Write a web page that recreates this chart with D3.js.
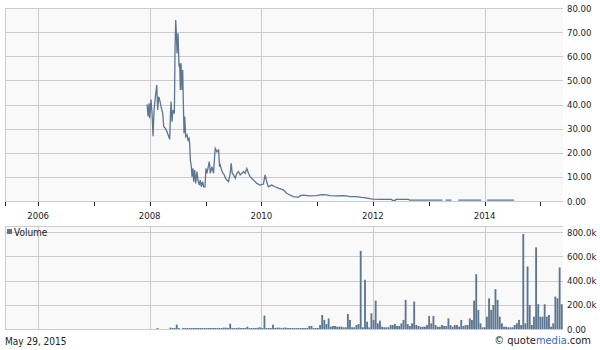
<!DOCTYPE html>
<html>
<head>
<meta charset="utf-8">
<script src="https://cdn.jsdelivr.net/npm/d3@7"></script>
<style>
  body { margin: 0; background: #fff; }
  text { font-family: Tahoma, "DejaVu Sans Condensed", "Liberation Sans", sans-serif; fill: #222; }
</style>
</head>
<body>
<div id="chart"></div>
<script>
// price (decimal years); null = no trades
var priceYears = [2007.953,2007.971,2007.989,2008.000,2008.024,2008.042,2008.060,2008.078,2008.102,2008.126,
  2008.143,2008.161,2008.179,2008.203,2008.233,2008.251,2008.280,2008.310,2008.340,2008.358,
  2008.370,2008.382,2008.399,2008.417,2008.441,2008.453,2008.465,2008.477,2008.489,2008.507,
  2008.524,2008.536,2008.548,2008.560,2008.578,2008.590,2008.602,2008.614,2008.626,2008.644,
  2008.667,2008.685,2008.703,2008.715,2008.727,2008.745,2008.756,2008.774,2008.786,2008.804,
  2008.822,2008.845,2008.863,2008.887,2008.905,2008.923,2008.947,2008.965,2008.989,2009.006,
  2009.024,2009.048,2009.066,2009.084,2009.114,2009.143,2009.161,2009.173,2009.203,2009.233,
  2009.250,2009.262,2009.286,2009.310,2009.334,2009.357,2009.381,2009.411,2009.441,2009.459,
  2009.477,2009.501,2009.530,2009.560,2009.590,2009.620,2009.649,2009.679,2009.709,2009.739,
  2009.768,2009.798,2009.858,2009.917,2009.977,2010.036,2010.066,2010.096,2010.125,2010.185,
  2010.245,2010.304,2010.393,2010.453,2010.513,2010.572,2010.661,2010.691,2010.750,2010.870,
  2010.989,2011.079,2011.168,2011.227,2011.346,2011.464,2011.525,2011.584,2011.704,2011.793,
  2011.852,2011.941,2012.005,2012.120,2012.330,2012.348,2012.400,2012.410,2012.636,2012.654,
  2013.243,2013.270,2013.297,2013.404,2013.460,2013.529,2013.940,2013.990,2014.046,2014.529];
var prices = [40.1,35.0,40.5,34.3,42.1,36.3,26.9,37.7,43.2,48.1,
  37.7,43.2,41.9,39.1,36.3,30.8,30.1,28.7,26.7,25.6,
  35.0,41.2,32.9,37.7,36.3,62.6,75.0,69.5,61.2,69.5,
  55.7,57.1,46.0,57.1,46.0,54.3,40.5,28.0,35.0,26.7,
  27.4,25.3,26.0,23.9,17.0,14.2,10.1,13.5,8.0,12.8,
  7.3,12.2,8.7,6.6,8.7,5.9,8.0,5.9,5.9,13.5,
  11.5,14.2,16.3,11.5,14.2,11.5,18.4,21.8,20.4,21.1,
  14.2,14.9,12.8,11.5,10.8,9.4,8.7,8.0,11.5,15.6,
  11.5,10.8,9.4,11.5,12.2,10.8,11.5,12.2,11.5,13.5,
  11.5,10.1,8.7,7.3,6.6,7.0,10.8,8.0,5.9,6.6,
  5.9,5.3,4.6,3.2,2.5,1.8,1.5,2.1,2.4,2.1,
  2.2,2.6,2.5,2.2,2.1,2.2,2.1,1.8,1.8,1.5,
  1.4,1.0,0.8,0.7,0.7,0.3,0.3,0.7,0.7,0.4,
  0.4,null,0.4,0.4,null,0.4,0.4,null,0.4,0.4];

// volume, one bar per two weeks from volStart
var volStart = "2008-02-15";
var volumes = [5,0,0,0,0,0,11,8,4,36,4,0,3,3,3,3,3,3,3,3,
  3,3,3,3,3,3,3,3,3,3,3,11,11,5,44,5,5,5,11,3,
  3,3,19,3,3,3,3,11,14,5,111,8,5,8,36,4,11,11,4,11,
  11,5,5,8,5,8,5,5,5,5,5,25,25,8,8,8,33,116,75,41,
  88,19,25,25,19,19,19,14,14,124,75,14,14,33,41,647,14,407,61,14,
  130,75,235,47,69,19,14,14,14,33,33,41,25,25,47,75,241,41,25,47,
  227,33,25,19,19,19,33,108,47,108,33,19,19,33,25,25,88,33,19,33,
  33,19,75,25,33,33,88,75,235,453,158,47,14,14,102,254,158,199,330,241,
  102,47,19,19,14,14,14,33,47,75,33,786,47,517,199,33,102,675,205,102,
  102,205,102,116,19,47,268,254,509,205,108]; // thousands

var priceTicks = [0, 10, 20, 30, 40, 50, 60, 70, 80];
var volTicks = [0, 200, 400, 600, 800];
var yearLabels = [2006, 2008, 2010, 2012, 2014];
var yearTicks = [2006, 2007, 2008, 2009, 2010, 2011, 2012, 2013, 2014, 2015];

var w = 600, h = 350;
var left = 5, right = 563;
var lineColor = "#5c7690", gridColor = "#cccccc";

function yearToDate(y) {
  var yr = Math.floor(y);
  var a = new Date(yr, 0, 1), b = new Date(yr + 1, 0, 1);
  return new Date(+a + (y - yr) * (b - a));
}

var svg = d3.select("#chart").append("svg")
  .attr("width", w).attr("height", h);

var x = d3.scaleTime()
  .domain([new Date(2005, 4, 29), new Date(2015, 4, 29)])
  .range([left, right]);

var yP = d3.scaleLinear().domain([0, 80]).range([201, 8]);
var yV = d3.scaleLinear().domain([0, 800]).range([329, 232.3]);

svg.append("defs").append("clipPath").attr("id", "clip")
  .append("rect").attr("x", left).attr("y", 0).attr("width", right - left).attr("height", h);

// panel backgrounds
svg.append("rect").attr("x", left).attr("y", 8).attr("width", right - left).attr("height", 193).attr("fill", "#f9f9f9");
svg.append("rect").attr("x", left).attr("y", 226).attr("width", right - left).attr("height", 103).attr("fill", "#f9f9f9");

// horizontal grid
svg.selectAll(".pgrid").data(priceTicks).enter().append("line")
  .attr("x1", left).attr("x2", right)
  .attr("y1", function(d) { return Math.round(yP(d)) + 0.5; })
  .attr("y2", function(d) { return Math.round(yP(d)) + 0.5; })
  .attr("stroke", gridColor);
svg.selectAll(".vgrid").data(volTicks).enter().append("line")
  .attr("x1", left).attr("x2", right)
  .attr("y1", function(d) { return Math.round(yV(d)) + 0.5; })
  .attr("y2", function(d) { return Math.round(yV(d)) + 0.5; })
  .attr("stroke", gridColor);
svg.append("line").attr("x1", left).attr("x2", right).attr("y1", 226.5).attr("y2", 226.5).attr("stroke", gridColor);

// vertical grid + left borders
[[8, 201], [226, 329]].forEach(function(p) {
  svg.selectAll(null).data(yearLabels).enter().append("line")
    .attr("x1", function(d) { return Math.round(x(new Date(d, 0, 1))) + 0.5; })
    .attr("x2", function(d) { return Math.round(x(new Date(d, 0, 1))) + 0.5; })
    .attr("y1", p[0]).attr("y2", p[1])
    .attr("stroke", gridColor);
  svg.append("line").attr("x1", left + 0.5).attr("x2", left + 0.5)
    .attr("y1", p[0]).attr("y2", p[1]).attr("stroke", gridColor);
});

// year ticks under price panel
var tickVals = yearTicks.map(function(d) { return new Date(d, 0, 1); });
svg.selectAll(".ytick").data(tickVals).enter().append("line")
  .attr("x1", function(d) { return Math.round(x(d)) + 0.5; })
  .attr("x2", function(d) { return Math.round(x(d)) + 0.5; })
  .attr("y1", 202).attr("y2", 206)
  .attr("stroke", "#222");
svg.append("line").attr("x1", left + 0.5).attr("x2", left + 0.5).attr("y1", 202).attr("y2", 206).attr("stroke", "#222");

svg.selectAll(".ylab").data(yearLabels).enter().append("text")
  .attr("x", function(d) { return x(new Date(d, 0, 1)); })
  .attr("y", 218.5)
  .attr("text-anchor", "middle")
  .attr("font-size", "9.5px")
  .text(function(d) { return d; });

// price line
var pts = priceYears.map(function(d, i) { return {date: yearToDate(d), v: prices[i]}; });
var line = d3.line()
  .defined(function(d) { return d.v !== null; })
  .x(function(d) { return x(d.date); })
  .y(function(d) { return yP(d.v); });
svg.append("path").datum(pts)
  .attr("d", line)
  .attr("fill", "none")
  .attr("stroke", lineColor)
  .attr("stroke-width", 1.3);

// volume bars
var t0 = d3.timeParse("%Y-%m-%d")(volStart);
var bars = volumes.map(function(v, i) { return {date: d3.timeDay.offset(t0, 14 * i), v: v}; });
svg.append("g").attr("clip-path", "url(#clip)")
  .selectAll("rect").data(bars).enter().append("rect")
  .attr("x", function(d) { return x(d.date); })
  .attr("width", function(d) { return x(d3.timeDay.offset(d.date, 14)) - x(d.date) - 0.3; })
  .attr("y", function(d) { return Math.min(yV(d.v), 328); })
  .attr("height", function(d) { return d.v > 0 ? Math.max(329 - yV(d.v), 1) : 0; })
  .attr("fill", lineColor);

// right axis labels
svg.selectAll(".plab").data(priceTicks).enter().append("text")
  .attr("x", 567).attr("y", function(d) { return yP(d) + 3.5; })
  .attr("font-size", "9.5px")
  .text(function(d) { return d3.format(".2f")(d); });
svg.selectAll(".vlab").data(volTicks).enter().append("text")
  .attr("x", 567).attr("y", function(d) { return yV(d) + 3.5; })
  .attr("font-size", "9.5px")
  .text(function(d) { return d === 0 ? "0.00" : d3.format(".1f")(d) + "k"; });

// legend
svg.append("rect").attr("x", 7).attr("y", 229).attr("width", 5).attr("height", 5).attr("fill", lineColor);
svg.append("text").attr("x", 14).attr("y", 236).attr("font-size", "10px").text("Volume");

// footer
svg.append("text").attr("x", 5).attr("y", 345).attr("font-size", "10px").text("May 29, 2015");
var cr = svg.append("text").attr("x", 591).attr("y", 344).attr("text-anchor", "end").attr("font-size", "11px");
cr.append("tspan").text("\u00a9 quote");
cr.append("tspan").style("fill", "#3a66b8").text("media");
cr.append("tspan").text(".com");
</script>
</body>
</html>
